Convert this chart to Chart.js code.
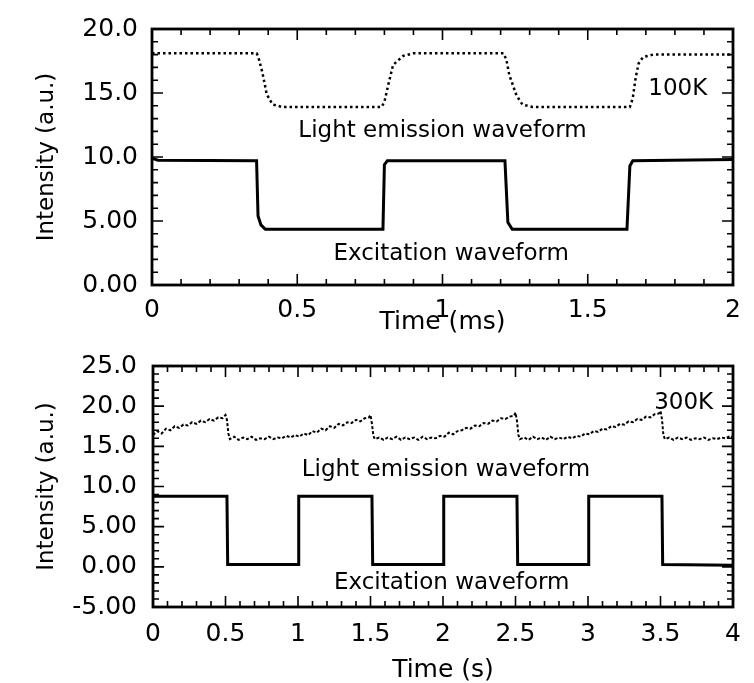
<!DOCTYPE html>
<html>
<head>
<meta charset="utf-8">
<script src="https://cdn.jsdelivr.net/npm/chart.js@4/dist/chart.umd.min.js"></script>
<style>
  body { margin: 0; background: #fff; }
  canvas { position: absolute; left: 0; }
  #top { top: 0; }
  #bot { top: 335px; }
</style>
</head>
<body>
<canvas id="top" width="754" height="335" style="width:754px;height:335px"></canvas>
<canvas id="bot" width="754" height="348" style="width:754px;height:348px"></canvas>
<script>
// ---- 100K panel (time in ms) ----
const excite100T = [0, 0.02, 0.36, 0.365, 0.375, 0.39, 0.795, 0.80, 0.81, 1.215, 1.225, 1.24, 1.635, 1.645, 1.655, 2.0];
const excite100V = [9.9, 9.75, 9.7, 5.4, 4.7, 4.35, 4.35, 9.4, 9.7, 9.7, 4.9, 4.35, 4.35, 9.3, 9.7, 9.8];

const emis100T = [0, 0.36, 0.365, 0.38, 0.395, 0.415, 0.45, 0.79, 0.80, 0.815, 0.83, 0.865, 0.90, 1.21, 1.22, 1.23, 1.255, 1.275, 1.31, 1.645, 1.655, 1.665, 1.675, 1.69, 1.725, 2.0];
const emis100V = [18.1, 18.1, 17.9, 16.6, 14.9, 14.1, 13.9, 13.9, 14.3, 15.8, 17.2, 17.9, 18.1, 18.1, 17.6, 16.4, 14.8, 14.1, 13.9, 13.9, 14.6, 16.2, 17.3, 17.8, 18.0, 18.0];

const xTicksTop = [0, 0.5, 1, 1.5, 2];
const xLabelsTop = ['0', '0.5', '1', '1.5', '2'];
const yTicksTop = [0, 5, 10, 15, 20];
const yLabelsTop = ['0.00', '5.00', '10.0', '15.0', '20.0'];

// ---- 300K panel (time in s) ----
const excite300T = [0, 0.51, 0.515, 1.0, 1.005, 1.51, 1.515, 2.0, 2.005, 2.51, 2.515, 3.0, 3.005, 3.51, 3.515, 4.0];
const excite300V = [8.8, 8.8, 0.3, 0.3, 8.8, 8.8, 0.3, 0.3, 8.8, 8.8, 0.3, 0.3, 8.8, 8.8, 0.3, 0.2];

const emis300T = [
  0, 0.03, 0.06, 0.09, 0.12, 0.15, 0.18, 0.21, 0.24, 0.27, 0.30, 0.33, 0.36, 0.39, 0.42, 0.45, 0.48, 0.50, 0.51, 0.52, 0.53,
  0.56, 0.59, 0.62, 0.65, 0.68, 0.71, 0.74, 0.77, 0.80, 0.83, 0.86, 0.89, 0.92, 0.95, 0.98,
  1.01, 1.04, 1.07, 1.10, 1.13, 1.16, 1.19, 1.22, 1.25, 1.28, 1.31, 1.34, 1.37, 1.40, 1.43, 1.46, 1.49, 1.50, 1.51, 1.52, 1.53,
  1.56, 1.59, 1.62, 1.65, 1.68, 1.71, 1.74, 1.77, 1.80, 1.83, 1.86, 1.89, 1.92, 1.95, 1.98,
  2.01, 2.04, 2.07, 2.10, 2.13, 2.16, 2.19, 2.22, 2.25, 2.28, 2.31, 2.34, 2.37, 2.40, 2.43, 2.46, 2.49, 2.50, 2.51, 2.52, 2.53,
  2.56, 2.59, 2.62, 2.65, 2.68, 2.71, 2.74, 2.77, 2.80, 2.83, 2.86, 2.89, 2.92,
  2.95, 2.98, 3.01, 3.04, 3.07, 3.10, 3.13, 3.16, 3.19, 3.22, 3.25, 3.28, 3.31, 3.34, 3.37, 3.40, 3.43, 3.46, 3.49, 3.50, 3.51, 3.52, 3.53,
  3.56, 3.59, 3.62, 3.65, 3.68, 3.71, 3.74, 3.77, 3.80, 3.83, 3.86, 3.89, 3.92, 3.95, 3.98, 4.0
];
const emis300V = [
  16.4, 16.9, 16.6, 17.2, 17.0, 17.5, 17.3, 17.7, 17.6, 18.0, 17.8, 18.2, 18.0, 18.4, 18.2, 18.6, 18.5, 18.9, 18.3, 16.6, 15.9,
  16.2, 15.8, 16.1, 15.9, 16.2, 15.8, 16.0, 15.9, 16.2, 15.9, 16.1, 16.0, 16.3, 16.1, 16.4,
  16.2, 16.6, 16.4, 16.9, 16.7, 17.2, 17.0, 17.5, 17.3, 17.8, 17.6, 18.0, 17.9, 18.3, 18.1, 18.5, 18.6, 18.9, 17.8, 16.3, 15.9,
  16.1, 15.8, 16.1, 15.9, 16.2, 15.8, 16.1, 15.9, 16.1, 15.8, 16.2, 15.9, 16.1, 16.0, 16.3,
  16.2, 16.7, 16.5, 16.9, 17.0, 17.3, 17.2, 17.6, 17.5, 17.9, 17.8, 18.2, 18.1, 18.5, 18.4, 18.7, 18.8, 19.2, 18.2, 16.4, 15.9,
  16.1, 15.8, 16.2, 15.9, 16.1, 15.8, 16.2, 15.9, 16.1, 15.9, 16.2, 16.0, 16.3,
  16.2, 16.6, 16.5, 16.9, 16.8, 17.2, 17.1, 17.5, 17.4, 17.8, 17.7, 18.1, 18.0, 18.4, 18.3, 18.7, 18.6, 19.0, 19.1, 19.4, 18.4, 16.4, 15.9,
  16.1, 15.8, 16.1, 15.9, 16.1, 15.8, 16.0, 15.9, 16.1, 15.8, 16.0, 15.9, 16.1, 16.0, 16.3, 16.1
];

const xTicksBot = [0, 0.5, 1, 1.5, 2, 2.5, 3, 3.5, 4];
const xLabelsBot = ['0', '0.5', '1', '1.5', '2', '2.5', '3', '3.5', '4'];
const yTicksBot = [-5, 0, 5, 10, 15, 20, 25];
const yLabelsBot = ['-5.00', '0.00', '5.00', '10.0', '15.0', '20.0', '25.0'];

const FONT = 'DejaVu Sans';

function pairs(t, v) {
  return t.map((x, i) => ({ x: x, y: v[i] }));
}

// frame round the plot area, with ticks pointing inward on all four sides
const framePlugin = {
  id: 'frame',
  afterDraw(chart, args, opts) {
    const ctx = chart.ctx;
    const a = chart.chartArea;
    const xs = chart.scales.x, ys = chart.scales.y;
    ctx.save();
    ctx.strokeStyle = '#000';
    ctx.lineWidth = 1.6;
    const nx = Math.round((xs.max - xs.min) / opts.xMinor);
    for (let i = 0; i <= nx; i++) {
      const v = xs.min + i * opts.xMinor;
      const major = Math.abs(v / opts.xMajor - Math.round(v / opts.xMajor)) < 1e-6;
      const len = major ? 11 : 6;
      const px = xs.getPixelForValue(v);
      ctx.beginPath();
      ctx.moveTo(px, a.bottom); ctx.lineTo(px, a.bottom - len);
      ctx.moveTo(px, a.top); ctx.lineTo(px, a.top + len);
      ctx.stroke();
    }
    const ny = Math.round((ys.max - ys.min) / opts.yMinor);
    for (let i = 0; i <= ny; i++) {
      const v = ys.min + i * opts.yMinor;
      const major = Math.abs(v / opts.yMajor - Math.round(v / opts.yMajor)) < 1e-6;
      const len = major ? 11 : 6;
      const py = ys.getPixelForValue(v);
      ctx.beginPath();
      ctx.moveTo(a.left, py); ctx.lineTo(a.left + len, py);
      ctx.moveTo(a.right, py); ctx.lineTo(a.right - len, py);
      ctx.stroke();
    }
    ctx.lineWidth = 2.8;
    ctx.strokeRect(a.left, a.top, a.right - a.left, a.bottom - a.top);
    ctx.restore();
  }
};

// text labels placed at data coordinates
const notesPlugin = {
  id: 'notes',
  afterDatasetsDraw(chart, args, opts) {
    const ctx = chart.ctx;
    ctx.save();
    ctx.fillStyle = '#000';
    ctx.textAlign = 'center';
    ctx.textBaseline = 'middle';
    opts.items.forEach(n => {
      ctx.font = n.size + 'px "' + FONT + '"';
      ctx.fillText(n.text, chart.scales.x.getPixelForValue(n.x), chart.scales.y.getPixelForValue(n.y));
    });
    ctx.restore();
  }
};

function makeChart(id, cfg) {
  const ctx = document.getElementById(id).getContext('2d');
  return new Chart(ctx, {
    type: 'line',
    data: {
      datasets: [
        {
          data: pairs(cfg.emisT, cfg.emisV),
          borderColor: '#000',
          borderWidth: cfg.emisWidth,
          borderDash: cfg.emisDash,
          pointRadius: 0,
          tension: 0
        },
        {
          data: pairs(cfg.excT, cfg.excV),
          borderColor: '#000',
          borderWidth: 3,
          pointRadius: 0,
          tension: 0
        }
      ]
    },
    options: {
      responsive: false,
      animation: false,
      events: [],
      layout: { padding: { left: 0, right: 21, top: cfg.top, bottom: 0 } },
      plugins: {
        legend: { display: false },
        tooltip: { enabled: false },
        frame: cfg.frame,
        notes: { items: cfg.notes }
      },
      scales: {
        x: {
          type: 'linear',
          min: cfg.xMin, max: cfg.xMax,
          grid: { display: false, drawTicks: false },
          border: { display: false },
          afterBuildTicks: s => { s.ticks = cfg.xTicks.map(v => ({ value: v })); },
          ticks: {
            color: '#000',
            font: { family: FONT, size: 25 },
            padding: cfg.xTickPad,
            maxRotation: 0,
            autoSkip: false,
            callback: v => cfg.xLabels[cfg.xTicks.indexOf(v)]
          },
          title: {
            display: true,
            text: cfg.xTitle,
            color: '#000',
            font: { family: FONT, size: 25, lineHeight: 1 },
            padding: { top: cfg.xTitlePad, bottom: 0 }
          },
          afterFit: s => { s.height = cfg.xHeight; }
        },
        y: {
          min: cfg.yMin, max: cfg.yMax,
          grid: { display: false, drawTicks: false },
          border: { display: false },
          afterBuildTicks: s => { s.ticks = cfg.yTicks.map(v => ({ value: v })); },
          ticks: {
            color: '#000',
            font: { family: FONT, size: 25 },
            padding: cfg.yTickPad,
            autoSkip: false,
            callback: v => cfg.yLabels[cfg.yTicks.indexOf(v)]
          },
          title: {
            display: true,
            text: 'Intensity (a.u.)',
            color: '#000',
            font: { family: FONT, size: 23, lineHeight: 1 },
            padding: { top: 36, bottom: 0 }
          },
          afterFit: s => { s.width = cfg.yWidth; }
        }
      }
    },
    plugins: [framePlugin, notesPlugin]
  });
}

makeChart('top', {
  emisT: emis100T, emisV: emis100V, emisWidth: 2.5, emisDash: [2.5, 3],
  excT: excite100T, excV: excite100V,
  xMin: 0, xMax: 2, yMin: 0, yMax: 20,
  xTicks: xTicksTop, xLabels: xLabelsTop, yTicks: yTicksTop, yLabels: yLabelsTop,
  xTitle: 'Time (ms)',
  top: 23, xHeight: 50, yWidth: 152, xTickPad: 10, xTitlePad: -2, yTickPad: 14,
  frame: { xMinor: 0.1, xMajor: 0.5, yMinor: 1, yMajor: 5 },
  notes: [
    { text: 'Light emission waveform', x: 1.0, y: 12.0, size: 23 },
    { text: 'Excitation waveform', x: 1.03, y: 2.45, size: 23 },
    { text: '100K', x: 1.81, y: 15.3, size: 23 }
  ]
});

makeChart('bot', {
  emisT: emis300T, emisV: emis300V, emisWidth: 2, emisDash: [3, 2],
  excT: excite300T, excV: excite300V,
  xMin: 0, xMax: 4, yMin: -5, yMax: 25,
  xTicks: xTicksBot, xLabels: xLabelsBot, yTicks: yTicksBot, yLabels: yLabelsBot,
  xTitle: 'Time (s)',
  top: 18, xHeight: 76, yWidth: 153, xTickPad: 12, xTitlePad: 11, yTickPad: 16,
  frame: { xMinor: 0.1, xMajor: 0.5, yMinor: 1, yMajor: 5 },
  notes: [
    { text: 'Light emission waveform', x: 2.02, y: 12.1, size: 23 },
    { text: 'Excitation waveform', x: 2.06, y: -2.0, size: 23 },
    { text: '300K', x: 3.66, y: 20.4, size: 23 }
  ]
});
</script>
</body>
</html>
